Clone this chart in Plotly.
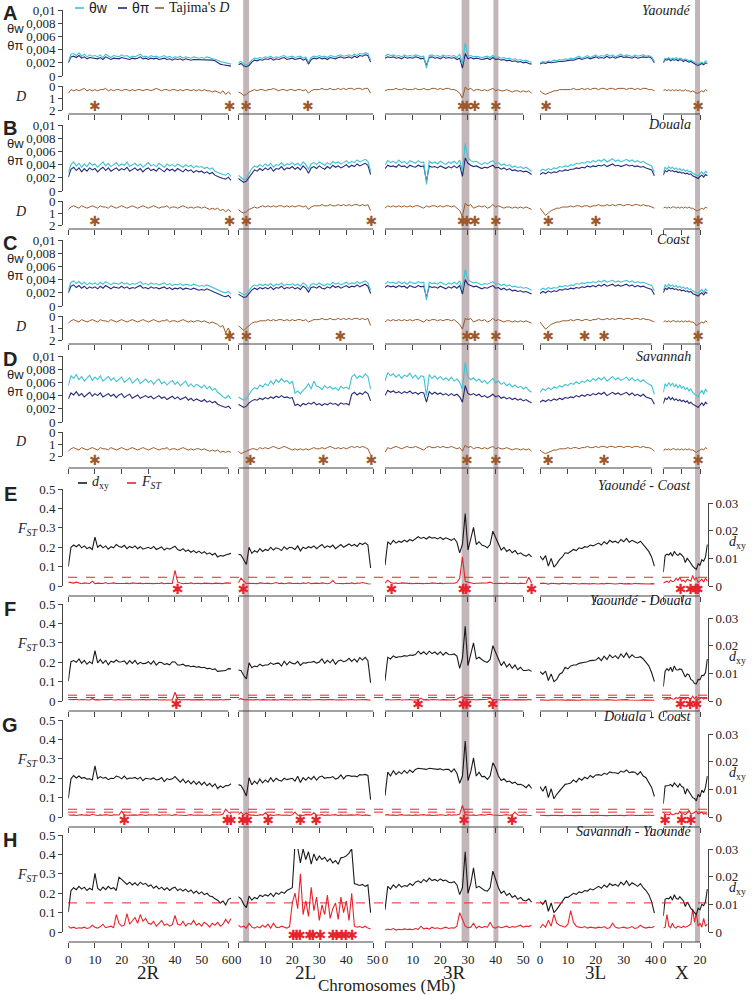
import numpy as np
import plotly.graph_objects as go

# ---------------- data (1-Mb windows) ----------------
# theta values in 1e-4, Tajima's D in 0.1, dxy in 1e-4, Fst in 1e-3
CHROMS = ["2R", "2L", "3R", "3L", "X"]

TW_YAOUNDE = {
    "2R": [22,33,34,31,35,30,33,29,32,30, 31,29,32,28,33,30,28,31,30,29, 32,30,31,28,30,29,31,33,29,30, 28,31,29,30,28,29,31,28,30,27, 29,28,30,27,29,28,27,29,28,27, 28,27,29,28,27,26,24,22,21,20, 19,18],
    "2L": [20,22,18,17,19,24,27,26,28,27, 29,28,30,27,29,28,30,31,28,29, 30,28,29,30,27,29,21,28,30,29, 31,29,30,28,31,30,29,31,32,30, 31,32,30,33,31,34,33,35,34,24],
    "3R": [30,33,31,32,30,31,29,32,30,31, 30,32,31,29,30,12,31,32,30,31, 29,32,30,31,30,31,28,33,18,50, 30,31,29,30,29,28,29,30,28,31, 28,29,27,28,26,27,25,26,24,25, 23,24,22,21],
    "3L": [20,22,21,23,22,24,23,25,24,26, 25,27,26,28,30,27,29,31,28,30, 32,29,31,30,33,30,32,29,31,33, 30,32,31,29,32,30,31,32,30,31, 29,22],
    "X": [22,27,26,28,25,27,26,28,25,27, 26,24,26,25,23,24,22,21,19,18, 20,21,19,23,22],
}
TP_YAOUNDE = {
    "2R": [20,29,30,28,31,27,29,26,28,27, 27,26,28,25,29,27,25,27,27,26, 28,27,27,25,27,26,27,29,26,27, 25,27,26,27,25,26,27,25,26,24, 26,25,26,24,26,25,24,25,25,24, 25,24,25,24,24,23,20,18,17,16, 15,15],
    "2L": [17,19,15,14,16,21,24,23,25,24, 26,25,27,24,26,25,27,28,25,26, 27,25,26,27,24,26,18,25,27,26, 28,26,27,25,28,27,26,28,29,27, 28,29,27,30,28,31,30,32,31,21],
    "3R": [27,29,28,29,27,28,26,29,27,28, 27,29,28,26,27,16,28,29,27,28, 26,29,27,28,27,28,25,27,12,34, 26,28,26,27,26,25,26,27,25,28, 25,26,24,25,23,24,22,23,21,22, 20,21,19,18],
    "3L": [18,20,19,21,20,21,21,22,22,23, 23,24,24,25,27,25,26,28,26,27, 29,27,28,27,30,27,29,27,28,30, 28,29,28,27,29,27,28,29,28,29, 27,20],
    "X": [20,25,24,26,23,25,24,25,23,25, 24,22,24,23,21,22,20,19,17,16, 18,19,17,20,19],
}
TD_YAOUNDE = {
    "2R": [-6,-3,-4,-3,-4,-3,-2,-4,-3,-4, -3,-4,-3,-3,-2,-4,-3,-4,-3,-3, -4,-3,-3,-4,-3,-4,-3,-3,-4,-3, -3,-4,-3,-2,-3,-4,-3,-3,-4,-3, -3,-4,-3,-4,-3,-3,-4,-3,-4,-3, -4,-3,-4,-4,-5,-4,-5,-6,-4,-7, -5,-7],
    "2L": [-5,-6,-8,-7,-5,-4,-3,-4,-3,-3, -4,-3,-3,-2,-3,-4,-3,-3,-4,-3, -3,-4,-3,-3,-4,-3,-6,-4,-3,-3, -3,-2,-3,-3,-2,-3,-3,-2,-3,-2, -3,-2,-2,-3,-2,-2,-3,-2,-2,-6],
    "3R": [-4,-3,-3,-3,-2,-3,-3,-2,-3,-3, -3,-2,-3,-3,-2,-3,-3,-2,-2,-3, -2,-3,-2,-2,-3,-3,-4,-6,-10,-1, -3,-2,-4,-3,-3,-4,-3,-4,-3,-2, -4,-3,-4,-4,-3,-4,-5,-4,-4,-5, -4,-5,-4,-6],
    "3L": [-4,-6,-7,-6,-5,-4,-4,-3,-3,-3, -3,-3,-2,-3,-3,-2,-3,-2,-3,-2, -2,-3,-2,-2,-3,-2,-2,-3,-2,-2, -2,-3,-2,-2,-3,-2,-3,-2,-2,-3, -3,-4],
    "X": [-4,-3,-4,-3,-4,-3,-4,-3,-4,-3, -4,-4,-3,-4,-4,-5,-4,-5,-6,-6, -5,-4,-5,-3,-4],
}

TW_DOUALA = {
    "2R": [28,40,44,38,42,36,41,37,43,39, 41,36,40,44,38,42,37,40,43,38, 41,39,44,37,40,42,38,41,36,40, 43,38,40,37,42,39,36,41,38,40, 37,41,38,36,40,37,39,35,38,36, 37,34,36,33,35,30,28,26,25,24, 27,22],
    "2L": [24,20,17,19,26,34,38,36,40,37, 41,38,42,36,40,39,43,38,41,40, 43,39,42,38,44,40,33,41,43,40, 44,41,39,43,40,45,42,44,41,43, 46,42,45,43,47,44,46,48,45,30],
    "3R": [40,46,43,45,42,47,43,45,41,46, 44,42,46,43,44,10,45,42,44,41, 45,43,40,44,42,45,41,47,30,72, 50,46,44,45,42,40,43,41,44,46, 41,43,39,41,38,40,36,38,35,37, 34,36,33,30],
    "3L": [30,33,31,34,32,35,34,37,36,38, 37,40,39,42,41,43,42,45,43,46, 44,47,45,48,44,46,49,45,47,44, 46,48,45,47,44,46,43,45,42,40, 38,28],
    "X": [28,36,33,37,34,36,33,35,32,34, 31,33,30,32,29,30,27,26,24,23, 26,29,25,30,27],
}
TP_DOUALA = {
    "2R": [21,33,36,31,35,29,34,30,35,32, 34,29,33,36,31,35,30,33,35,31, 34,32,36,30,33,35,31,34,29,33, 35,31,33,30,35,32,29,34,31,33, 30,34,31,29,33,30,32,28,31,29, 30,27,29,26,28,24,22,20,19,18, 21,16],
    "2L": [19,16,13,15,21,28,32,30,34,31, 35,32,36,30,34,33,37,32,35,34, 37,33,36,32,38,34,27,35,37,34, 38,35,33,37,34,39,36,38,35,37, 40,36,39,37,41,38,40,42,39,25],
    "3R": [34,39,37,38,36,40,37,38,35,39, 37,36,39,37,38,15,38,36,37,35, 38,36,34,37,35,38,35,39,22,50, 42,39,37,38,36,34,36,35,37,39, 35,36,33,35,32,34,31,32,30,31, 29,30,28,25],
    "3L": [25,28,26,29,27,29,28,31,30,32, 31,33,33,35,34,36,35,38,36,38, 37,39,38,40,37,39,41,38,39,37, 38,40,38,39,37,38,36,37,35,34, 32,23],
    "X": [24,31,29,32,30,31,29,30,28,29, 27,28,26,27,25,26,23,22,20,19, 22,24,21,25,23],
}
TD_DOUALA = {
    "2R": [-7,-5,-4,-5,-6,-4,-5,-6,-5,-4, -5,-6,-4,-5,-5,-6,-4,-5,-6,-5, -4,-5,-6,-5,-4,-5,-6,-5,-4,-5, -6,-5,-4,-5,-6,-5,-5,-4,-6,-5, -5,-6,-5,-4,-5,-6,-5,-6,-5,-5, -6,-5,-6,-7,-6,-7,-6,-8,-7,-9, -7,-9],
    "2L": [-7,-9,-10,-9,-7,-6,-5,-6,-5,-4, -5,-4,-5,-4,-5,-4,-4,-5,-4,-5, -4,-5,-4,-4,-5,-4,-7,-5,-4,-4, -4,-3,-4,-4,-3,-4,-4,-3,-4,-3, -4,-3,-4,-3,-3,-4,-3,-4,-3,-8],
    "3R": [-6,-4,-5,-4,-5,-4,-5,-4,-5,-4, -5,-4,-4,-5,-6,-4,-5,-4,-4,-5, -4,-5,-4,-4,-5,-4,-6,-8,-13,-2, -4,-3,-6,-5,-4,-5,-4,-6,-5,-3, -5,-4,-5,-6,-5,-5,-6,-5,-6,-5, -6,-5,-6,-7],
    "3L": [-6,-9,-12,-10,-8,-7,-6,-6,-5,-5, -5,-4,-5,-4,-4,-5,-4,-4,-5,-4, -4,-3,-4,-4,-3,-4,-3,-4,-3,-3, -4,-3,-3,-4,-3,-3,-4,-3,-4,-4, -5,-6],
    "X": [-6,-5,-6,-5,-6,-5,-5,-6,-5,-6, -5,-6,-5,-6,-5,-6,-6,-7,-8,-8, -7,-6,-7,-5,-6],
}

TW_COAST = {
    "2R": [25,36,38,34,37,33,36,32,35,33, 35,32,36,33,37,34,32,35,34,33, 36,33,35,32,34,33,35,37,33,34, 32,35,33,34,32,33,35,32,34,31, 33,32,34,31,33,32,31,33,32,30, 31,30,32,30,29,27,24,22,21,20, 22,18],
    "2L": [22,20,17,18,23,29,32,30,33,31, 33,31,34,30,33,32,35,31,33,32, 34,31,33,30,35,32,26,33,34,32, 35,32,31,34,32,36,33,35,32,34, 36,33,35,34,37,34,36,38,35,24],
    "3R": [33,37,35,36,34,37,34,36,33,37, 35,34,37,35,36,9,36,34,35,33, 36,34,32,35,33,36,33,38,25,55, 40,37,35,36,34,32,34,33,35,37, 33,34,31,33,30,32,29,30,28,29, 27,28,26,24],
    "3L": [24,27,25,28,26,28,27,30,29,31, 30,32,31,34,33,35,34,36,35,37, 35,38,36,39,36,37,39,36,38,36, 37,39,36,38,35,37,35,36,34,33, 31,23],
    "X": [24,32,29,33,30,32,29,31,28,30, 27,29,26,28,25,26,23,22,20,19, 22,25,21,26,23],
}
TP_COAST = {
    "2R": [20,30,32,28,31,27,30,26,29,27, 29,26,30,27,31,28,26,29,28,27, 30,27,29,26,28,27,29,31,27,28, 26,29,27,28,26,27,29,26,28,25, 27,26,28,25,27,26,25,27,26,24, 25,24,26,24,23,21,18,16,15,14, 16,12],
    "2L": [18,16,13,14,19,24,27,25,28,26, 28,26,29,25,28,27,30,26,28,27, 29,26,28,25,30,27,21,28,29,27, 30,27,26,29,27,31,28,30,27,29, 31,28,30,29,32,29,31,33,30,19],
    "3R": [28,31,29,30,28,31,29,30,27,31, 29,28,31,29,30,13,30,28,29,27, 30,28,26,29,27,30,27,31,18,40, 33,31,29,30,28,26,28,27,29,31, 27,28,25,27,24,26,23,24,22,23, 21,22,20,18],
    "3L": [19,22,20,23,21,23,22,25,24,26, 25,27,26,28,27,29,28,30,29,31, 29,32,30,33,30,31,33,30,32,30, 31,33,30,32,29,31,29,30,28,27, 25,17],
    "X": [20,27,25,28,26,27,25,26,24,25, 23,24,22,23,21,22,19,18,16,15, 18,20,17,21,19],
}
TD_COAST = {
    "2R": [-6,-4,-3,-4,-5,-3,-4,-5,-4,-3, -4,-5,-3,-4,-4,-5,-3,-4,-5,-4, -3,-4,-5,-4,-3,-4,-5,-4,-3,-4, -5,-4,-3,-4,-5,-4,-4,-3,-5,-4, -4,-5,-4,-3,-4,-5,-4,-5,-4,-4, -5,-4,-5,-6,-5,-6,-7,-9,-8,-14, -10,-15],
    "2L": [-8,-10,-12,-10,-8,-6,-5,-5,-4,-4, -4,-3,-4,-3,-4,-3,-3,-4,-3,-4, -3,-4,-3,-3,-4,-3,-5,-4,-3,-3, -3,-2,-3,-3,-2,-3,-3,-2,-3,-2, -3,-2,-3,-2,-2,-3,-2,-3,-2,-8],
    "3R": [-5,-3,-4,-3,-4,-3,-4,-3,-4,-3, -4,-3,-3,-4,-5,-3,-4,-3,-3,-4, -3,-4,-3,-3,-4,-3,-5,-7,-11,-2, -3,-2,-5,-4,-3,-4,-3,-5,-4,-2, -4,-3,-4,-5,-4,-4,-5,-4,-5,-4, -5,-4,-5,-6],
    "3L": [-5,-8,-11,-9,-7,-6,-5,-5,-4,-4, -4,-3,-4,-3,-3,-4,-3,-3,-4,-3, -3,-2,-3,-3,-2,-3,-2,-3,-2,-2, -3,-2,-2,-3,-2,-2,-3,-2,-3,-3, -4,-5],
    "X": [-5,-4,-5,-4,-5,-4,-4,-5,-4,-5, -4,-5,-4,-5,-4,-5,-5,-6,-8,-7, -6,-5,-6,-4,-5],
}

TW_SAVANNAH = {
    "2R": [55,70,66,72,64,69,62,67,71,63, 68,64,70,62,66,69,63,67,61,65, 68,60,64,67,59,63,66,58,62,65, 60,63,57,62,65,58,61,56,60,63, 57,61,55,59,62,54,58,53,57,55, 52,56,50,54,48,51,45,42,38,36, 40,35],
    "2L": [38,36,33,35,42,48,52,50,56,53, 58,55,62,57,64,60,66,61,63,58, 62,44,47,43,48,52,58,50,62,54, 53,49,55,51,54,50,52,48,54,51, 53,50,68,72,66,70,67,73,69,50],
    "3R": [62,75,70,73,68,72,66,71,69,74, 67,71,65,70,69,40,72,66,70,65, 69,64,67,63,68,62,65,60,50,90, 68,64,67,62,65,60,63,58,62,66, 59,62,57,60,55,58,53,56,52,54, 50,53,48,45],
    "3L": [45,50,48,52,49,53,51,55,53,57, 55,59,57,61,58,62,60,64,61,66, 63,67,64,68,62,66,69,64,67,63, 66,68,63,67,62,65,61,64,60,58, 55,42],
    "X": [45,58,54,60,55,59,53,57,52,56, 51,54,49,52,47,50,45,43,40,38, 44,48,42,50,45],
}
TP_SAVANNAH = {
    "2R": [35,44,41,46,40,43,38,42,45,39, 43,40,44,38,41,43,39,42,37,41, 43,37,40,42,36,39,41,36,38,40, 37,39,35,38,40,36,38,34,37,39, 35,38,34,36,38,33,36,32,35,33, 31,34,30,32,29,31,27,25,23,22, 24,20],
    "2L": [27,25,22,24,29,32,34,33,36,34, 37,35,38,36,39,37,40,37,38,36, 37,25,27,24,28,26,29,27,30,26, 28,25,28,26,29,27,28,25,29,27, 28,26,42,45,41,44,42,46,43,32],
    "3R": [40,48,45,47,44,46,43,46,44,47, 43,45,42,45,44,30,46,42,45,42, 44,41,43,40,43,40,42,38,30,55, 43,41,43,40,42,38,40,37,39,42, 38,40,36,38,35,37,34,36,33,35, 32,34,31,29],
    "3L": [30,33,31,34,32,35,33,36,34,37, 36,38,37,40,38,41,39,42,40,43, 41,44,42,45,40,43,45,42,44,41, 43,45,41,44,40,42,39,42,38,37, 35,27],
    "X": [28,36,34,38,34,37,33,35,32,34, 31,33,30,32,28,30,27,26,24,22, 26,29,25,30,27],
}
TD_SAVANNAH = {
    "2R": [-16,-14,-13,-14,-15,-13,-14,-15,-14,-13, -14,-15,-13,-14,-14,-15,-13,-14,-15,-14, -13,-14,-15,-14,-13,-14,-15,-14,-13,-14, -15,-14,-13,-14,-15,-14,-14,-13,-15,-14, -14,-15,-14,-13,-14,-15,-14,-15,-14,-14, -15,-14,-15,-16,-15,-16,-15,-17,-16,-17, -16,-17],
    "2L": [-16,-18,-17,-16,-15,-14,-14,-15,-13,-14, -13,-14,-13,-12,-13,-14,-13,-12,-13,-14, -15,-14,-15,-14,-15,-14,-15,-14,-13,-14, -14,-13,-14,-13,-12,-13,-14,-13,-14,-13, -14,-13,-12,-13,-12,-13,-12,-13,-14,-19],
    "3R": [-17,-13,-14,-13,-12,-13,-14,-13,-12,-13, -13,-12,-13,-14,-15,-13,-12,-13,-13,-12, -13,-12,-13,-13,-12,-13,-14,-13,-16,-11, -13,-12,-14,-13,-13,-14,-13,-14,-13,-12, -14,-13,-14,-14,-13,-14,-15,-14,-14,-15, -14,-15,-14,-16],
    "3L": [-15,-17,-18,-17,-16,-15,-15,-14,-14,-14, -13,-14,-13,-13,-14,-13,-13,-12,-13,-13, -12,-13,-12,-12,-13,-12,-12,-13,-12,-12, -13,-12,-12,-13,-12,-12,-13,-12,-13,-13, -14,-16],
    "X": [-16,-14,-15,-14,-15,-14,-14,-15,-14,-15, -14,-15,-14,-15,-14,-15,-15,-16,-17,-16, -15,-14,-15,-13,-14],
}

DXY_YC = {
    "2R": [70,140,148,142,150,138,145,135,140,132, 177,140,148,138,145,133,142,138,150,143, 140,147,135,143,138,145,135,142,133,138, 140,135,143,132,138,141,130,137,133,140, 144,132,128,135,125,130,122,128,120,126, 118,124,115,120,112,118,105,110,108,112, 115,118],
    "2L": [115,112,95,78,140,118,128,122,135,125, 132,128,140,130,138,135,128,142,133,140, 138,132,145,127,140,135,142,138,145,135, 143,150,138,145,140,148,135,143,150,140, 147,152,145,150,143,155,150,156,148,65],
    "3R": [75,160,150,165,155,162,158,166,160,168, 163,170,178,172,176,170,178,173,175,170, 176,168,174,170,165,172,158,120,150,262, 130,170,212,150,160,148,145,138,150,198, 175,150,130,140,125,132,120,128,115,120, 112,108,115,105],
    "3L": [108,95,110,72,100,68,80,95,105,120, 118,125,132,128,138,135,142,140,148,145, 150,155,148,160,152,165,158,162,155,168, 160,172,158,165,160,155,162,150,140,125, 105,72],
    "X": [50,110,115,112,120,108,125,115,110,118, 112,105,85,100,92,80,72,65,60,80, 75,95,90,105,150],
}
FST_YC = {
    "2R": [20,18,15,20,14,12,16,15,13,25, 12,15,14,13,18,12,14,16,13,12, 14,13,15,12,16,14,13,15,12,14, 13,15,12,14,13,16,12,14,15,13, 80,20,15,12,14,13,16,12,14,13, 12,15,14,13,12,15,13,14,12,16, 14,15],
    "2L": [15,40,25,12,14,13,15,12,16,14, 13,15,12,14,18,13,15,12,14,16, 13,15,14,12,16,13,18,12,14,15, 13,16,14,12,15,28,14,13,15,12, 14,13,16,12,15,14,18,13,12,10],
    "3R": [15,30,18,14,15,13,16,14,15,13, 12,14,13,15,12,14,13,16,14,13, 15,12,14,13,15,14,18,40,150,25, 20,15,13,14,15,13,14,16,20,14, 13,15,14,12,16,13,15,14,12,15, 13,14,45,15],
    "3L": [12,15,13,10,14,12,13,11,14,12, 13,11,14,12,10,13,12,14,11,13, 12,10,13,11,14,12,13,10,12,14, 11,13,12,10,14,12,11,13,12,10, 12,11],
    "X": [15,20,25,18,30,22,25,40,28,45, 25,30,20,35,28,25,55,30,45,20, 25,35,20,40,25],
}

DXY_YD = {
    "2R": [72,142,146,140,152,136,147,133,142,135, 182,138,150,136,147,131,144,140,148,141, 142,145,133,146,136,147,133,140,135,136, 142,133,145,130,140,139,132,135,131,142, 141,130,130,133,127,128,124,126,122,124, 120,122,117,118,114,116,107,108,110,110, 117,116],
    "2L": [112,110,92,80,138,120,126,124,133,127, 130,130,138,132,136,137,126,144,131,142, 136,134,143,129,138,137,140,140,143,137, 141,152,136,147,138,150,133,145,148,142, 145,154,143,152,141,157,148,158,146,66],
    "3R": [73,158,152,163,157,160,160,164,162,166, 165,168,180,170,178,168,180,171,177,168, 178,166,176,168,167,170,162,118,155,270, 128,167,210,152,158,150,143,140,150,200, 172,152,128,142,123,134,118,130,113,122, 110,110,113,107],
    "3L": [106,97,108,74,98,70,78,97,103,122, 116,127,130,130,136,137,140,142,146,147, 148,157,146,162,150,167,156,164,153,170, 158,174,156,167,158,157,160,152,138,127, 103,70],
    "X": [52,108,117,110,122,106,127,113,112,116, 114,103,87,98,94,78,74,63,62,78, 77,93,92,103,152],
}
FST_YD = {
    "2R": [8,6,7,9,5,8,6,7,5,12, 6,7,5,8,6,7,9,5,6,8, 5,7,6,8,5,6,7,5,8,6, 7,5,6,8,5,7,6,5,7,6, 45,10,6,7,5,8,6,7,5,6, 7,5,8,6,5,7,6,8,5,7, 6,8],
    "2L": [8,12,7,6,5,7,6,8,5,7, 6,8,5,7,6,5,8,6,7,5, 6,8,5,7,6,8,5,6,7,5, 8,6,7,5,6,8,5,7,6,5, 7,6,8,5,6,7,5,8,6,4],
    "3R": [6,8,5,7,6,8,5,7,6,8, 5,7,6,15,6,7,5,8,6,7, 5,7,6,8,5,7,9,18,22,10, 7,6,8,5,7,6,8,9,15,7, 6,8,5,7,6,8,5,7,6,5, 7,6,8,6],
    "3L": [6,5,7,4,6,5,7,5,6,4, 6,5,7,5,4,6,5,7,5,6, 5,4,6,5,7,5,6,4,5,6, 5,7,5,4,6,5,4,6,5,4, 5,4],
    "X": [8,10,12,8,15,10,9,18,12,20, 10,14,9,18,12,10,25,12,22,9, 12,18,10,15,10],
}

DXY_DC = {
    "2R": [68,138,150,141,148,140,143,137,138,134, 185,139,146,140,143,135,140,139,148,145, 138,148,137,141,140,143,137,144,131,140, 138,137,141,134,136,143,128,139,135,138, 146,134,126,137,123,132,120,130,118,128, 116,126,113,122,110,120,103,112,106,114, 113,120],
    "2L": [117,114,97,76,142,116,130,120,137,123, 134,126,142,128,140,133,130,140,135,138, 140,130,147,125,142,133,144,136,147,133, 145,148,140,143,142,146,137,141,152,138, 149,150,147,148,145,153,152,154,150,63],
    "3R": [77,162,148,167,153,164,156,168,158,170, 161,172,176,174,174,172,176,175,173,172, 174,170,172,172,163,174,158,122,148,275, 132,163,214,148,162,146,147,136,148,196, 177,148,132,138,127,130,122,126,117,118, 114,106,117,103],
    "3L": [110,93,112,70,102,66,82,93,107,118, 120,123,134,126,140,133,144,138,150,143, 152,153,150,158,154,163,160,160,157,166, 162,170,160,163,162,153,164,148,142,123, 107,74],
    "X": [48,112,113,114,118,110,123,117,108,120, 110,107,83,102,90,82,70,67,58,82, 73,97,88,107,148],
}
FST_DC = {
    "2R": [12,9,11,8,10,12,9,11,8,14, 10,8,11,9,12,10,8,11,9,10, 30,11,9,10,8,11,9,12,10,8, 11,9,10,12,8,10,11,9,10,8, 12,10,9,11,8,10,12,9,11,10, 9,11,10,8,12,10,9,11,15,40, 25,18],
    "2L": [12,25,10,22,11,9,10,8,12,10, 22,9,11,8,10,12,9,11,10,8, 11,25,9,10,8,12,10,11,22,9, 10,12,8,11,9,10,12,8,11,9, 10,8,11,9,12,10,8,11,9,7],
    "3R": [10,12,9,11,8,10,12,9,11,10, 8,11,9,10,12,9,11,8,10,9, 11,10,8,12,9,11,10,15,60,12, 10,9,11,8,10,12,9,11,14,10, 9,11,8,10,12,9,11,25,10,8, 11,9,10,8],
    "3L": [9,8,10,7,9,8,10,9,7,9, 8,10,9,7,9,8,10,8,9,7, 9,8,10,9,7,8,9,10,8,9, 7,9,8,10,8,9,7,9,8,10, 8,9],
    "X": [25,12,15,10,18,12,14,20,15,30, 14,18,12,20,35,15,18,22,30,15, 18,25,14,20,12],
}

DXY_SY = {
    "2R": [72,150,160,153,165,155,162,150,158,152, 212,158,150,162,153,165,156,160,150,198, 190,182,172,180,170,178,168,180,172,176, 165,170,158,166,155,162,152,160,150,158, 162,150,156,148,155,145,152,140,148,138, 145,135,140,130,128,120,115,105,112,98, 118,122],
    "2L": [128,120,100,88,130,115,125,120,133,128, 135,130,140,128,142,136,145,140,150,155, 160,318,305,250,300,262,290,245,282,258, 275,262,270,255,265,250,258,245,268,270, 275,285,300,175,170,168,172,165,170,70],
    "3R": [80,165,155,170,160,172,162,168,165,175, 168,180,185,178,190,182,195,186,190,184, 192,185,188,180,178,182,170,135,160,290, 140,175,232,160,165,158,150,148,160,220, 190,160,140,148,132,140,125,132,118,125, 115,112,120,108],
    "3L": [110,100,115,75,105,70,82,98,110,125, 125,132,140,136,145,142,150,148,156,152, 160,165,158,170,162,175,168,172,165,180, 170,185,168,178,172,165,175,160,150,135, 110,68],
    "X": [58,118,122,120,128,115,135,122,118,128, 120,112,92,108,98,85,78,70,62,86, 80,100,95,110,155],
}
FST_SY = {
    "2R": [30,20,25,18,22,20,25,18,22,35, 25,20,28,40,22,25,30,22,90,45, 30,35,95,40,60,75,45,90,55,70, 45,40,55,30,45,60,35,42,30,38, 85,40,35,55,30,45,40,60,35,45, 30,50,40,25,45,35,50,30,40,65, 45,70],
    "2L": [35,25,30,20,45,25,20,28,22,35, 25,40,20,45,25,22,30,25,20,28, 150,200,120,300,90,160,80,230,110,180, 60,140,90,190,70,120,150,65,180,100, 160,60,200,30,25,28,22,30,20,15],
    "3R": [10,15,12,18,10,14,12,16,13,15, 12,18,14,30,16,20,15,25,18,22, 16,20,25,18,22,20,30,100,60,30, 22,25,45,20,30,22,28,25,50,25, 20,28,22,25,30,22,28,25,30,35, 25,30,28,35],
    "3L": [20,40,25,60,30,90,45,35,30,25, 40,110,50,30,25,22,28,20,25,22, 20,25,22,28,18,22,45,25,20,22, 25,20,22,28,18,22,35,25,20,25, 22,30],
    "X": [20,25,90,30,22,45,25,20,30,25, 22,30,25,28,35,40,120,50,100,30, 45,25,70,30,40],
}

# significant windows (Mb) marked with asterisks
STARS_YAOUNDE = {"2R": [10, 60.5], "2L": [2.9, 25.8], "3R": [28.1, 29.6, 32.5, 40.1], "3L": [2.2], "X": [19]}
STARS_DOUALA = {"2R": [10, 60.5], "2L": [3, 49.3], "3R": [28.1, 29.6, 32.5, 40.1], "3L": [3, 20], "X": [19]}
STARS_COAST = {"2R": [60.5], "2L": [3, 37.8], "3R": [29.6, 32.5, 40.1], "3L": [2.9, 16, 23], "X": [19]}
STARS_SAVANNAH = {"2R": [10], "2L": [4.5, 31.5, 49.3], "3R": [29.6, 40.1], "3L": [2.9, 23], "X": [19]}
STARS_YC = {"2R": [41], "2L": [1.9], "3R": [2.4, 28.3, 29.3, 53], "3L": [], "X": [9.5, 14.9, 17.8, 18.8]}
STARS_YD = {"2R": [40.5], "2L": [], "3R": [12, 28.3, 29.5, 39], "3L": [], "X": [9.5, 14.6, 18.2]}
STARS_DC = {"2R": [21, 59.6, 61], "2L": [1.7, 3.4, 11, 23, 28.8], "3R": [28.6, 46], "3L": [], "X": [1, 10, 15]}
STARS_SY = {"2R": [], "2L": [20.4, 21.6, 22.8, 26.5, 27.6, 30.4, 35, 36.4, 38.3, 39.8, 42.2], "3R": [], "3L": [], "X": []}

FST_CUTOFFS = {"YC": [0.045], "YD": [0.018, 0.03], "DC": [0.025, 0.04], "SY": [0.15]}

# shaded regions (chromosome, start Mb, end Mb)
BANDS = [("2L", 1.8, 4.0), ("3R", 27.7, 30.5), ("3R", 39.2, 41.0), ("X", 17.3, 20.0)]

# ---------------- layout geometry (pixels) ----------------
W, H = 753, 995
SERIF = "Liberation Serif"
SANS = "Liberation Sans"
C_TW, C_TP, C_TD = "#3fc2d4", "#27297a", "#9c5a2c"
C_FST, C_DXY = "#e8232b", "#1a1a1a"
AXC = "#444444"

CH_LEFT = {"2R": 68.3, "2L": 238.3, "3R": 385.0, "3L": 540.0, "X": 663.3}
CH_SCALE = {"2R": 2.667, "2L": 2.70, "3R": 2.766, "3L": 2.79, "X": 1.835}
CH_END = {"2R": 61.3, "2L": 50.2, "3R": 53.3, "3L": 41.6, "X": 24.3}
CH_TICKS = {"2R": [0, 10, 20, 30, 40, 50, 60], "2L": [0, 10, 20, 30, 40, 50],
            "3R": [0, 10, 20, 30, 40, 50], "3L": [0, 10, 20, 30, 40], "X": [0, 10, 20]}


def fx(p):
    return p / W


def fy(p):
    return 1 - p / H


fig = go.Figure()
layout = {}
shapes = []
annotations = []


def add_xaxes(panel, ybar, labels):
    refs = {}
    for ci, ch in enumerate(CHROMS):
        n = panel * 5 + ci + 1
        key = "xaxis" if n == 1 else f"xaxis{n}"
        ref = "x" if n == 1 else f"x{n}"
        left = CH_LEFT[ch]
        right = left + CH_END[ch] * CH_SCALE[ch]
        ticks = CH_TICKS[ch]
        text = [str(t) for t in ticks]
        if ch == "X":
            text = ["0", "", "20"]
        layout[key] = dict(domain=[fx(left), fx(right)], range=[0, CH_END[ch]], anchor="free",
                           position=fy(ybar), showline=False, showgrid=False, zeroline=False,
                           ticks="outside", ticklen=5, tickcolor=AXC, tickvals=ticks, ticktext=text,
                           showticklabels=labels, tickfont=dict(family=SERIF, size=13, color="#222"))
        shapes.append(dict(type="line", xref=ref, yref="paper", x0=0, x1=ticks[-1], y0=fy(ybar),
                           y1=fy(ybar), line=dict(color=AXC, width=1)))
        refs[ch] = ref
    return refs


def add_yaxis(n, top, bottom, rng, vals, text, side="left"):
    key = "yaxis" if n == 1 else f"yaxis{n}"
    layout[key] = dict(domain=[fy(bottom), fy(top)], range=rng, anchor="free",
                       position=fx(62) if side == "left" else fx(708), side=side,
                       showline=True, linecolor=AXC, linewidth=1, showgrid=False, zeroline=False,
                       ticks="outside", ticklen=4, tickcolor=AXC, tickvals=vals, ticktext=text,
                       tickfont=dict(family=SERIF, size=13, color="#222"))
    return "y" if n == 1 else f"y{n}"


def add_star_axis(n, center):
    # hidden axis holding one row of significance asterisks
    layout[f"yaxis{n}"] = dict(domain=[fy(center + 6), fy(center - 6)], range=[0, 1],
                               anchor="free", position=fx(62), visible=False)
    return f"y{n}"


def line(xref, yref, vals, scale, color, width):
    fig.add_trace(go.Scatter(x=np.arange(len(vals)), y=np.array(vals) * scale, mode="lines",
                             line=dict(color=color, width=width), xaxis=xref, yaxis=yref,
                             showlegend=False, hoverinfo="skip"))


def stars(xref, yref, pos, color):
    if not pos:
        return
    fig.add_trace(go.Scatter(x=pos, y=[0.5] * len(pos), mode="text", text=["✱"] * len(pos),
                             textfont=dict(size=14, color=color, family="DejaVu Sans"),
                             cliponaxis=False, xaxis=xref, yaxis=yref, showlegend=False,
                             hoverinfo="skip"))


def label(x, y, text, size=13, family=SERIF, xanchor="center", color="#222"):
    annotations.append(dict(x=fx(x), y=fy(y), xref="paper", yref="paper", text=text,
                            showarrow=False, xanchor=xanchor, yanchor="middle",
                            font=dict(family=family, size=size, color=color)))


def legend_item(x, y, color, text, family):
    shapes.append(dict(type="line", xref="paper", yref="paper", x0=fx(x), x1=fx(x + 9),
                       y0=fy(y), y1=fy(y), line=dict(color=color, width=1.6)))
    label(x + 12, y, text, size=14, family=family, xanchor="left")


# ---------------- diversity panels A-D ----------------
diversity = [
    ("A", "Yaoundé", TW_YAOUNDE, TP_YAOUNDE, TD_YAOUNDE, STARS_YAOUNDE, 10, 114, 107),
    ("B", "Douala", TW_DOUALA, TP_DOUALA, TD_DOUALA, STARS_DOUALA, 125, 229, 222),
    ("C", "Coast", TW_COAST, TP_COAST, TD_COAST, STARS_COAST, 240, 344, 337),
    ("D", "Savannah", TW_SAVANNAH, TP_SAVANNAH, TD_SAVANNAH, STARS_SAVANNAH, 356, 468, 461),
]
theta_ticks = [0, 0.002, 0.004, 0.006, 0.008, 0.01]
theta_text = ["0", "0,002", "0,004", "0,006", "0,008", "0,01"]
for i, (letter, pop, tw, tp, td, st, top, ybar, star_c) in enumerate(diversity):
    xr = add_xaxes(i, ybar, False)
    yt = add_yaxis(2 * i + 1, top, top + 66, [0, 0.01], theta_ticks, theta_text)
    yd = add_yaxis(2 * i + 2, top + 76, top + 100, [-2, 0], [0, -1, -2], ["0", "1", "2"])
    ys = add_star_axis(17 + i, star_c)
    for ch in CHROMS:
        line(xr[ch], yt, tp[ch], 1e-4, C_TP, 1.1)
        line(xr[ch], yt, tw[ch], 1e-4, C_TW, 1.1)
        line(xr[ch], yd, td[ch], 0.1, C_TD, 1.0)
        stars(xr[ch], ys, st[ch], C_TD)
    label(10, top + 3, f"<b>{letter}</b>", size=20, family=SANS)
    label(693, top, f"<i>{pop}</i>", size=14, xanchor="right")
    label(15, top + 27, "θw<br>θπ", size=13, family=SANS)
    label(20, top + 86, "<i>D</i>", size=14)

# ---------------- differentiation panels E-H ----------------
diff = [
    ("E", "Yaoundé - Coast", DXY_YC, FST_YC, STARS_YC, FST_CUTOFFS["YC"], 489),
    ("F", "Yaoundé - Douala", DXY_YD, FST_YD, STARS_YD, FST_CUTOFFS["YD"], 604),
    ("G", "Douala - Coast", DXY_DC, FST_DC, STARS_DC, FST_CUTOFFS["DC"], 720),
    ("H", "Savannah - Yaoundé", DXY_SY, FST_SY, STARS_SY, FST_CUTOFFS["SY"], 835),
]
for j, (letter, pair, dxy, fst, st, cuts, top) in enumerate(diff):
    bottom = top + 97
    xr = add_xaxes(4 + j, bottom + 10, j == 3)
    yf = add_yaxis(9 + 2 * j, top, bottom, [0, 0.5], [0, 0.1, 0.2, 0.3, 0.4, 0.5],
                   ["0", "0.1", "0.2", "0.3", "0.4", "0.5"])
    yx = add_yaxis(10 + 2 * j, bottom - 83, bottom, [0, 0.03], [0, 0.01, 0.02, 0.03],
                   ["0", "0.01", "0.02", "0.03"], side="right")
    ys = add_star_axis(21 + j, bottom + 4)
    for c in cuts:
        shapes.append(dict(type="line", xref="paper", yref=yf, x0=fx(68), x1=fx(708), y0=c, y1=c,
                           line=dict(color=C_FST, width=1, dash="dash")))
    for ch in CHROMS:
        line(xr[ch], yx, dxy[ch], 1e-4, C_DXY, 1.1)
        line(xr[ch], yf, fst[ch], 1e-3, C_FST, 1.1)
        stars(xr[ch], ys, st[ch], C_FST)
    label(10, top + 5, f"<b>{letter}</b>", size=20, family=SANS)
    label(693, top - 4, f"<i>{pair}</i>", size=14, xanchor="right")
    label(27, top + 40, "<i>F</i><sub><i>ST</i></sub>", size=14)
    label(737, top + 53, "<i>d</i><sub>xy</sub>", size=14)
    if j == 3:
        for ch in CHROMS:
            annotations.append(dict(x=CH_TICKS[ch][-1] / 2, y=fy(972), xref=xr[ch], yref="paper",
                                    text=ch, showarrow=False, xanchor="center", yanchor="middle",
                                    font=dict(family=SERIF, size=19, color="#222")))

# legends
legend_item(75, 8, C_TW, "θw", SANS)
legend_item(118, 8, C_TP, "θπ", SANS)
legend_item(155, 8, C_TD, "Tajima's <i>D</i>", SERIF)
legend_item(78, 483, C_DXY, "<i>d</i><sub>xy</sub>", SERIF)
legend_item(127, 483, C_FST, "<i>F</i><sub><i>ST</i></sub>", SERIF)
label(386, 985, "Chromosomes (Mb)", size=17)

# grey shaded regions through all panels
for ch, a, b in BANDS:
    ref = "x" if ch == "2R" else "x" + str(CHROMS.index(ch) + 1)
    shapes.append(dict(type="rect", xref=ref, yref="paper", x0=a, x1=b, y0=fy(942), y1=1,
                       fillcolor="rgba(175,158,160,0.75)", line=dict(width=0), layer="below"))

fig.update_layout(width=W, height=H, margin=dict(l=0, r=0, t=0, b=0, autoexpand=False),
                  paper_bgcolor="white", plot_bgcolor="rgba(0,0,0,0)", showlegend=False,
                  shapes=shapes, annotations=annotations, **layout)
# the page body has a default 8px margin; drop it so the figure fills the window
fig.write_html("out.html", config={"displayModeBar": False},
               post_script="document.body.style.margin = '0px';")
